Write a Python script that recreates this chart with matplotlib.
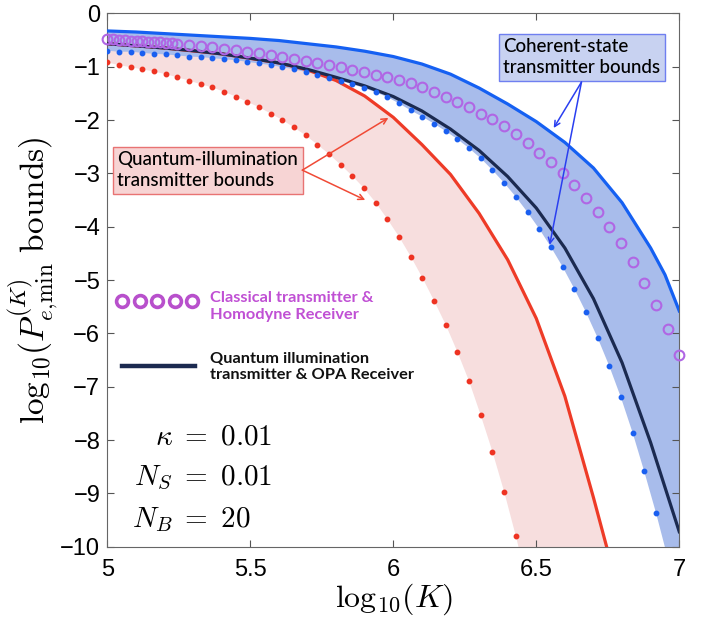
import numpy as np
import matplotlib
matplotlib.use("Agg")
import matplotlib.pyplot as plt

plt.rcParams['mathtext.fontset'] = 'cm'
plt.rcParams['font.family'] = ['Liberation Sans', 'DejaVu Sans']

# grid of log10(K) used for the dotted / circle series
x_grid = np.linspace(5, 7, 50)

# coherent-state lower bound (blue dots)
coh_lower = [-0.70, -0.72, -0.72, -0.74, -0.76, -0.77, -0.79, -0.81, -0.82, -0.84,
             -0.86, -0.88, -0.91, -0.94, -0.97, -1.01, -1.05, -1.10, -1.15, -1.21,
             -1.27, -1.33, -1.40, -1.48, -1.57, -1.69, -1.82, -1.94, -2.07, -2.21,
             -2.36, -2.53, -2.72, -2.94, -3.18, -3.44, -3.73, -4.04, -4.38, -4.75,
             -5.16, -5.60, -6.08, -6.61, -7.20, -7.86, -8.59, -9.36, -10.2, -11.1]

# quantum-illumination lower bound (red dots)
qi_lower = [-0.92, -0.97, -1.01, -1.05, -1.09, -1.14, -1.20, -1.26, -1.33, -1.39,
            -1.47, -1.56, -1.66, -1.76, -1.88, -2.00, -2.14, -2.29, -2.46, -2.64,
            -2.84, -3.05, -3.28, -3.55, -3.86, -4.19, -4.56, -4.96, -5.39, -5.84,
            -6.35, -6.90, -7.54, -8.22, -8.97, -9.80, -10.7]

# classical transmitter & homodyne receiver (circles)
classical = [-0.48, -0.50, -0.51, -0.52, -0.53, -0.55, -0.57, -0.59, -0.61, -0.64,
             -0.66, -0.69, -0.72, -0.75, -0.79, -0.82, -0.86, -0.89, -0.93, -0.97,
             -1.01, -1.06, -1.10, -1.15, -1.19, -1.25, -1.31, -1.39, -1.47, -1.56,
             -1.66, -1.76, -1.88, -1.99, -2.11, -2.27, -2.44, -2.61, -2.79, -3.00,
             -3.22, -3.47, -3.72, -4.00, -4.31, -4.66, -5.05, -5.47, -5.91, -6.41]
classical_extra_x = [5.021, 5.062, 5.103, 5.144, 5.185, 5.226]
classical_extra = [-0.49, -0.50, -0.51, -0.53, -0.54, -0.56]

# coherent-state upper bound (blue solid)
coh_upper_x = [5.0, 5.1, 5.2, 5.3, 5.4, 5.5, 5.6, 5.7, 5.8, 5.9, 6.0, 6.1, 6.2, 6.3,
               6.4, 6.5, 6.6, 6.7, 6.8, 6.9, 6.95, 7.0]
coh_upper = [-0.33, -0.35, -0.38, -0.41, -0.44, -0.47, -0.51, -0.57, -0.63, -0.71, -0.81,
             -0.95, -1.14, -1.40, -1.70, -2.03, -2.42, -2.90, -3.55, -4.40, -4.90, -5.58]

# quantum-illumination upper bound (red solid)
qi_upper_x = [5.0, 5.2, 5.4, 5.6, 5.7, 5.8, 5.9, 6.0, 6.1, 6.2, 6.3, 6.4, 6.5, 6.6, 6.7, 6.746]
qi_upper = [-0.57, -0.65, -0.76, -0.93, -1.06, -1.26, -1.55, -1.95, -2.46, -3.02, -3.75,
            -4.62, -5.72, -7.18, -9.08, -10.0]

# QI transmitter & OPA receiver (navy solid)
opa_x = [5.0, 5.1, 5.2, 5.3, 5.4, 5.5, 5.6, 5.7, 5.8, 5.9, 6.0, 6.1, 6.2, 6.3, 6.4,
         6.5, 6.6, 6.7, 6.8, 6.9, 7.0]
opa = [-0.57, -0.61, -0.65, -0.70, -0.76, -0.84, -0.93, -1.05, -1.20, -1.36, -1.56,
       -1.83, -2.17, -2.57, -3.06, -3.65, -4.40, -5.35, -6.55, -8.05, -9.72]

fig = plt.figure(figsize=(7.1, 6.23), dpi=100)
ax = fig.add_axes([0.1511, 0.1225, 0.8056, 0.8561])

# shaded regions
xd = x_grid[:len(qi_lower)]
ax.fill(np.r_[qi_upper_x, xd[::-1]], np.r_[qi_upper, qi_lower[::-1]],
        color='#f7dede', lw=0, zorder=1)
ax.fill(np.r_[coh_upper_x, x_grid[::-1]], np.r_[coh_upper, coh_lower[::-1]],
        color='#a8bceb', lw=0, zorder=1)

ax.plot(coh_upper_x, coh_upper, color='#1560f2', lw=2.3, zorder=3)
ax.plot(qi_upper_x, qi_upper, color='#ee3b27', lw=2.3, zorder=3)
ax.plot(opa_x, opa, color='#1b2a50', lw=2.3, zorder=4)
ax.plot(x_grid, coh_lower, ls='none', marker='o', ms=3.2, color='#1a5ff0', zorder=5)
ax.plot(xd, qi_lower, ls='none', marker='o', ms=3.2, color='#ee3322', zorder=5)
ax.plot(x_grid, classical, ls='none', marker='o', ms=7, mfc='none', mec='#b066e4',
        mew=1.5, zorder=6, clip_on=False)
ax.plot(classical_extra_x, classical_extra, ls='none', marker='o', ms=7, mfc='none',
        mec='#b066e4', mew=1.5, zorder=6, clip_on=False)

ax.set_xlim(5, 7)
ax.set_ylim(-10, 0)
ax.set_xticks([5, 5.5, 6, 6.5, 7])
ax.set_xticklabels(['5', '5.5', '6', '6.5', '7'])
ax.set_yticks(range(-10, 1))
ax.tick_params(direction='in', length=5, top=True, right=True, labelsize=17,
               color='#555555')
ax.tick_params(axis='x', pad=9)
ax.tick_params(axis='y', pad=5)
for s in ax.spines.values():
    s.set_color('#666666')

ax.set_xlabel(r'$\mathrm{log}_{10}(K)$', fontsize=23, labelpad=0)
ax.set_ylabel(r'$\mathrm{log}_{10}(P_{e{,}\mathrm{min}}^{(K)}\ \mathrm{bounds})$', fontsize=24, labelpad=0)

# annotation boxes
box_font = ['Lato', 'DejaVu Sans']
ax.text(6.385, -0.82, 'Coherent-state\ntransmitter bounds', fontsize=13.5, family=box_font,
        weight='medium', ha='left', va='center', linespacing=1.25, zorder=8,
        bbox=dict(boxstyle='square,pad=0.25', fc='#c8d2f1', ec='#6f7ff0', lw=1))
arrow_b = dict(arrowstyle='->', color='#2a3ff0', lw=1.1, shrinkA=0, shrinkB=0)
ax.annotate('', xy=(6.561, -2.15), xytext=(6.658, -1.29), arrowprops=arrow_b, zorder=8)
ax.annotate('', xy=(6.547, -4.34), xytext=(6.658, -1.29), arrowprops=arrow_b, zorder=8)

ax.text(5.035, -2.94, 'Quantum-illumination\ntransmitter bounds', fontsize=13.5, family=box_font,
        weight='medium', ha='left', va='center', linespacing=1.25, zorder=8,
        bbox=dict(boxstyle='square,pad=0.25', fc='#f7d4d4', ec='#e87373', lw=1))
arrow_r = dict(arrowstyle='->', color='#f04a36', lw=1.1, shrinkA=0, shrinkB=0)
ax.annotate('', xy=(5.983, -1.96), xytext=(5.682, -2.94), arrowprops=arrow_r, zorder=8)
ax.annotate('', xy=(5.902, -3.50), xytext=(5.682, -2.94), arrowprops=arrow_r, zorder=8)

# hand-drawn legend
ax.plot(np.linspace(5.052, 5.297, 5), [-5.39] * 5, ls='none', marker='o', ms=8.5,
        mfc='none', mec='#b850cc', mew=2.6, zorder=8)
ax.text(5.36, -5.5, 'Classical transmitter &\nHomodyne Receiver', fontsize=11.8,
        family=box_font, weight='bold', color='#c050d4', ha='left', va='center',
        linespacing=1.25, zorder=8)
ax.plot([5.052, 5.305], [-6.61, -6.61], color='#1b2a50', lw=3.2, zorder=8)
ax.text(5.36, -6.63, 'Quantum illumination\ntransmitter & OPA Receiver', fontsize=11.8,
        family=box_font, weight='bold', color='#111111', ha='left', va='center',
        linespacing=1.25, zorder=8)

# parameters
eq_x = 5.25
for sym, val, yb in [(r'$\kappa$', r'$=\ 0.01$', -8.09),
                     (r'$N_S$', r'$=\ 0.01$', -8.84),
                     (r'$N_B$', r'$=\ 20$', -9.63)]:
    ax.text(eq_x - 0.02, yb, sym, fontsize=21, ha='right', va='baseline')
    ax.text(eq_x, yb, val, fontsize=21, ha='left', va='baseline')

fig.savefig('out.png', dpi=100)
